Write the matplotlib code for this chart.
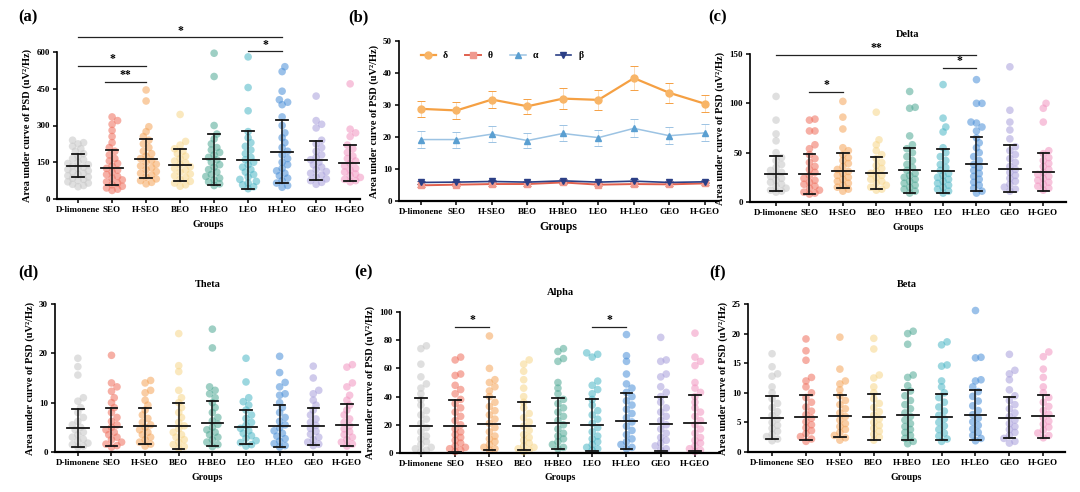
import numpy as np
import matplotlib
matplotlib.use("Agg")
import matplotlib.pyplot as plt
from matplotlib.lines import Line2D

plt.rcParams['font.family'] = ['Liberation Serif', 'DejaVu Serif']
plt.rcParams['font.weight'] = 'bold'
plt.rcParams['axes.labelweight'] = 'bold'
plt.rcParams['axes.titleweight'] = 'bold'

# ---------------- data ----------------
groups = ["D-limonene", "SEO", "H-SEO", "BEO", "H-BEO", "LEO", "H-LEO", "GEO", "H-GEO"]
group_colors = ["#c6c6c6", "#ef6e5c", "#f5a55a", "#f7d68a", "#4ea894",
                "#4cb6c6", "#4a8fd8", "#a89fdb", "#f294c0"]

# (a) total PSD
total_mean = [135, 128, 165, 138, 162, 160, 193, 158, 147]
total_sd = [47, 72, 78, 66, 103, 118, 129, 80, 75]
total_pts = [
    [240, 230, 225, 215, 205, 195, 185, 175, 165, 160, 150, 145, 140, 135, 130, 125, 120, 115, 110, 105, 100, 95, 90, 85, 80, 75, 70, 65, 60, 55, 50],
    [335, 320, 305, 280, 255, 230, 210, 195, 180, 165, 155, 145, 135, 125, 118, 110, 100, 92, 85, 78, 70, 65, 58, 52, 45, 40, 35],
    [445, 400, 295, 275, 255, 240, 225, 210, 195, 185, 175, 165, 158, 150, 142, 135, 128, 120, 112, 105, 98, 90, 82, 75, 68, 62],
    [345, 235, 220, 205, 195, 185, 175, 165, 155, 148, 140, 132, 125, 118, 110, 102, 95, 88, 80, 72, 65, 58, 52],
    [595, 500, 300, 265, 245, 225, 210, 200, 190, 180, 170, 160, 150, 140, 130, 120, 110, 100, 92, 85, 78, 70, 62, 55],
    [580, 455, 360, 275, 250, 230, 215, 200, 185, 170, 160, 150, 140, 130, 120, 110, 100, 90, 80, 72, 65, 58, 50, 42],
    [540, 520, 440, 405, 395, 385, 335, 300, 270, 250, 230, 210, 195, 180, 165, 150, 140, 125, 115, 105, 95, 85, 75, 65, 55, 48],
    [420, 320, 305, 290, 240, 225, 210, 195, 180, 170, 160, 150, 140, 130, 120, 112, 105, 98, 90, 82, 75, 68, 60],
    [470, 285, 270, 255, 220, 205, 190, 175, 165, 155, 145, 135, 125, 118, 110, 102, 95, 88, 80, 75, 70],
]

# (b) band means +- SEM
delta_mean = [28.8, 28.3, 31.7, 29.6, 32.0, 31.6, 38.4, 33.8, 30.4]
delta_err = [2.5, 2.7, 2.6, 2.4, 3.2, 3.1, 3.7, 3.2, 2.7]
theta_mean = [4.9, 5.1, 5.3, 5.3, 5.8, 5.1, 5.3, 5.2, 5.5]
theta_err = [0.5, 0.5, 0.5, 0.6, 0.6, 0.5, 0.5, 0.5, 0.5]
alpha_mean = [19.2, 19.2, 20.9, 18.9, 21.1, 19.8, 22.7, 20.4, 21.3]
alpha_err = [2.7, 2.5, 2.6, 2.3, 2.5, 2.5, 2.8, 2.6, 2.7]
beta_mean = [5.8, 5.9, 6.1, 5.9, 6.3, 5.9, 6.2, 5.8, 6.0]
beta_err = [0.5, 0.5, 0.5, 0.5, 0.6, 0.5, 0.6, 0.5, 0.5]

# (c) delta
delta_sd = [18, 20, 17.5, 16.5, 22.5, 22.5, 27, 23.5, 19]
delta_pts = [
    [107, 83, 69, 62, 50, 45, 42, 38, 35, 32, 30, 28, 26, 24, 22, 20, 18, 16, 14, 12, 11, 10],
    [84, 83, 72, 72, 58, 54, 48, 44, 40, 36, 33, 30, 27, 24, 22, 20, 18, 16, 14, 12, 10, 9, 8],
    [102, 86, 74, 55, 52, 48, 45, 42, 39, 36, 33, 31, 29, 27, 25, 23, 21, 19, 17, 15, 13, 11],
    [91, 63, 58, 52, 48, 44, 40, 37, 34, 31, 29, 27, 25, 23, 21, 19, 17, 15, 13, 12],
    [112, 96, 95, 67, 58, 54, 50, 46, 42, 38, 35, 32, 29, 27, 25, 23, 21, 19, 17, 15, 13, 11, 9],
    [119, 85, 76, 71, 55, 50, 46, 42, 38, 35, 32, 29, 27, 25, 23, 21, 19, 17, 15, 13, 11, 9],
    [124, 100, 100, 81, 80, 76, 72, 65, 60, 55, 50, 46, 42, 38, 35, 32, 29, 26, 23, 20, 17, 14, 11, 9],
    [137, 93, 81, 73, 64, 56, 52, 48, 44, 40, 36, 33, 30, 27, 24, 21, 18, 15, 13, 11],
    [100, 95, 81, 52, 49, 45, 42, 39, 36, 33, 30, 28, 26, 24, 22, 20, 18, 16, 14, 12],
]

# (d) theta
theta_sd = [3.9, 3.8, 3.6, 4.6, 4.6, 3.5, 4.2, 3.7, 4.2]
theta_pts = [
    [19, 17.3, 15.6, 11, 10.3, 9, 8, 7, 6.2, 5.5, 5, 4.5, 4, 3.5, 3, 2.6, 2.2, 1.8, 1.5, 1.2, 1.0],
    [19.6, 14, 13.2, 12.3, 11, 10, 9, 8, 7, 6.2, 5.5, 5, 4.5, 4, 3.5, 3, 2.5, 2, 1.6, 1.3, 1.0],
    [14.5, 14, 12.5, 12, 10.5, 9.5, 8.5, 7.5, 6.8, 6, 5.5, 5, 4.5, 4, 3.5, 3, 2.5, 2, 1.6, 1.2],
    [24, 17.5, 16.3, 12.5, 11, 10, 9, 8, 7, 6, 5.3, 4.7, 4, 3.5, 3, 2.5, 2, 1.5, 1.1, 0.7],
    [24.9, 21.1, 13.2, 12.5, 11.8, 11, 10, 9, 8, 7, 6.3, 5.6, 5, 4.5, 4, 3.5, 3, 2.5, 2, 1.5, 1.1],
    [19, 14.2, 11, 10.2, 9.5, 8.5, 7.5, 6.8, 6, 5.4, 4.8, 4.3, 3.8, 3.3, 2.8, 2.3, 1.9, 1.5, 1.2],
    [19.4, 16.1, 14.1, 13.2, 11.8, 11.5, 10, 9, 8, 7, 6.2, 5.5, 4.9, 4.3, 3.8, 3.2, 2.7, 2.2, 1.7, 1.3, 1.0],
    [17.4, 15, 12.5, 11.8, 10.5, 9.5, 8.5, 7.5, 6.7, 6, 5.4, 4.8, 4.2, 3.6, 3, 2.5, 2, 1.6, 1.3],
    [17.7, 17.2, 14, 13.2, 11.5, 10.5, 9.5, 8.5, 7.5, 6.7, 6, 5.3, 4.7, 4.1, 3.5, 3, 2.5, 2, 1.6, 1.2],
]

# (e) alpha
alpha_sd = [19.6, 18.3, 19, 17, 18.2, 18.4, 20, 19.1, 19.7]
alpha_pts = [
    [76, 74, 63, 54, 49, 46, 42, 38, 34, 30, 27, 24, 21, 18, 15, 12, 10, 8, 6, 4, 3, 2, 1],
    [68, 66, 56, 55, 48, 45, 42, 38, 35, 32, 29, 26, 23, 20, 17, 15, 13, 11, 9, 7, 5, 4, 3, 2, 1],
    [83, 60, 52, 50, 47, 44, 40, 36, 33, 30, 27, 24, 21, 18, 15, 12, 10, 8, 6, 4, 3, 2],
    [66, 63, 58, 52, 46, 40, 36, 32, 28, 25, 22, 19, 16, 13, 11, 9, 7, 5, 4, 3, 2, 1],
    [74, 72, 67, 65, 50, 46, 42, 38, 35, 32, 29, 26, 23, 20, 17, 14, 12, 10, 8, 6, 4, 3],
    [71, 70, 68, 51, 48, 45, 42, 38, 34, 30, 27, 24, 21, 18, 15, 12, 10, 8, 6, 4, 3, 2],
    [84, 69, 65, 56, 49, 46, 43, 40, 37, 34, 31, 28, 25, 22, 19, 16, 13, 10, 8, 6, 4, 3],
    [82, 66, 65, 56, 54, 47, 43, 40, 36, 32, 29, 26, 23, 20, 17, 14, 11, 9, 7, 5, 3, 2],
    [85, 68, 65, 62, 50, 46, 43, 40, 36, 32, 29, 26, 23, 20, 17, 14, 11, 9, 7, 5, 3, 2, 1],
]

# (f) beta
beta_sd = [3.6, 3.8, 3.6, 3.9, 4.2, 3.9, 4.2, 3.5, 3.6]
beta_pts = [
    [16.6, 14.4, 13.2, 12.8, 11, 10, 9, 8.2, 7.5, 6.8, 6.2, 5.6, 5, 4.5, 4, 3.5, 3, 2.6, 2.2, 1.9],
    [19.1, 17.1, 15.5, 12.6, 12, 11, 10, 9.2, 8.4, 7.6, 6.9, 6.3, 5.7, 5.1, 4.6, 4.1, 3.6, 3.1, 2.6, 2.2, 1.8],
    [19.4, 14, 12, 11.5, 10.5, 9.5, 8.7, 8, 7.3, 6.6, 6, 5.4, 4.8, 4.3, 3.8, 3.3, 2.8, 2.4, 2.0],
    [19.2, 17.4, 13, 12.5, 11, 10, 9, 8.2, 7.5, 6.8, 6.2, 5.6, 5, 4.5, 4, 3.5, 3, 2.5, 2.0],
    [20.4, 20, 18.2, 13, 12.6, 11.2, 10.3, 9.5, 8.7, 8, 7.3, 6.6, 6, 5.4, 4.8, 4.3, 3.8, 3.3, 2.8, 2.3, 1.8, 1.4],
    [18.6, 18.1, 14.7, 14.5, 12, 11, 10, 9.2, 8.4, 7.6, 6.9, 6.2, 5.6, 5, 4.4, 3.8, 3.2, 2.7, 2.2, 1.8],
    [23.9, 16, 15.9, 12.2, 12, 11, 10.2, 9.4, 8.6, 7.8, 7, 6.3, 5.7, 5.1, 4.5, 3.9, 3.3, 2.8, 2.3, 1.9],
    [16.5, 13.8, 13.2, 12.2, 10.5, 9.5, 8.7, 8, 7.3, 6.6, 6, 5.4, 4.8, 4.3, 3.8, 3.3, 2.8, 2.3, 1.8, 1.5],
    [16.9, 16.1, 14, 12.6, 11, 10, 9.2, 8.4, 7.7, 7, 6.4, 5.8, 5.2, 4.7, 4.2, 3.7, 3.2, 2.8, 2.4],
]

ylab = "Area under curve of PSD (uV²/Hz)"

# ---------------- figure ----------------
W, H = 1080, 492
fig = plt.figure(figsize=(W / 100, H / 100), dpi=100)


def add_axes(left, right, top, bottom):
    return fig.add_axes([left / W, 1 - bottom / H, (right - left) / W, (bottom - top) / H])


def style(ax, ymax, step, xlim, title=None, xlabel_size=7):
    ax.set_xlim(*xlim)
    ax.set_ylim(0, ymax)
    ax.set_yticks(np.arange(0, ymax + step / 2, step))
    ax.set_xticks(range(len(groups)))
    ax.set_xticklabels(groups)
    for s in ["top", "right"]:
        ax.spines[s].set_visible(False)
    ax.spines["left"].set_linewidth(1.2)
    ax.spines["bottom"].set_linewidth(1.6)
    ax.tick_params(labelsize=6.5, width=1.1, length=3, pad=2)
    ax.set_ylabel(ylab, fontsize=7.5, labelpad=3)
    ax.set_xlabel("Groups", fontsize=xlabel_size, labelpad=4)
    if title:
        ax.set_title(title, fontsize=7.5, pad=12)


def swarm_offsets(ax, vals, i, diam=5.5):
    # simple beeswarm in pixel space so dots don't stack on each other
    order = np.argsort(vals)
    placed = []
    offs = np.zeros(len(vals))
    x0, _ = ax.transData.transform((i, 0))
    x1, _ = ax.transData.transform((i + 1, 0))
    pxcat = x1 - x0
    step = diam * 0.5
    for k in order:
        _, y = ax.transData.transform((i, vals[k]))
        cands = [0.0]
        for n in range(1, 8):
            cands += [n * step, -n * step]
        best = cands[-1]
        for c in cands:
            if all((c - px) ** 2 + (y - py) ** 2 >= diam ** 2 for px, py in placed):
                best = c
                break
        placed.append((best, y))
        offs[k] = max(-0.3, min(0.3, best / pxcat))
    return offs


def dot_panel(ax, pts, means, sds):
    for i, vals in enumerate(pts):
        vals = np.array(vals, dtype=float)
        offs = swarm_offsets(ax, vals, i)
        ax.scatter(i + offs, vals, s=30, color=group_colors[i], alpha=0.55,
                   edgecolors="none", zorder=2, clip_on=False)
        m, sd = means[i], sds[i]
        ax.plot([i - 0.32, i + 0.32], [m, m], color="#151515", lw=1.3, zorder=3)
        ax.plot([i, i], [m - sd, m + sd], color="#151515", lw=1.1, zorder=3)
        for yy in (m - sd, m + sd):
            ax.plot([i - 0.17, i + 0.17], [yy, yy], color="#151515", lw=1.3, zorder=3)


def sig(ax, i0, i1, y, label, dy):
    ax.plot([i0, i1], [y, y], color="#222222", lw=0.9, clip_on=False)
    ax.text((i0 + i1) / 2, y + dy, label, ha="center", va="bottom",
            fontsize=8.5, clip_on=False)


# (a)
ax_a = add_axes(57, 360, 52, 199)
style(ax_a, 600, 150, (-0.62, 8.29))
dot_panel(ax_a, total_pts, total_mean, total_sd)
sig(ax_a, 0, 6, 661, "*", 2)
sig(ax_a, 5, 6, 604, "*", 2)
sig(ax_a, 0, 2, 543, "*", 2)
sig(ax_a, 0.8, 2, 478, "**", 2)

# (b)
ax_b = add_axes(399, 718, 41, 201)
style(ax_b, 50, 10, (-0.62, 8.37), xlabel_size=8.5)
x = np.arange(len(groups))
lines = [
    (delta_mean, delta_err, "δ", "#f5a043", "o", "#f8b567", 1.6),
    (theta_mean, theta_err, "θ", "#e0604e", "s", "#f09a8f", 1.4),
    (alpha_mean, alpha_err, "α", "#9cc3e3", "^", "#5a9fd1", 1.1),
    (beta_mean, beta_err, "β", "#2b3f86", "v", "#2b3f86", 1.2),
]
handles = []
for mean, err, lab, lc, mk, mc, lw in lines:
    ax_b.errorbar(x, mean, yerr=err, color=lc, lw=lw, marker=mk, ms=5,
                  mfc=mc, mec=mc, ecolor=lc, elinewidth=0.7, capsize=3,
                  capthick=0.7, zorder=3)
    handles.append(Line2D([], [], color=lc, lw=lw, marker=mk, ms=5, mfc=mc, mec=mc, label=lab))
# lighten error bars
for coll in ax_b.collections:
    coll.set_alpha(0.35)
ax_b.legend(handles=handles, loc="upper left", bbox_to_anchor=(0.04, 0.99), ncol=4,
            frameon=False, fontsize=7, handlelength=1.6, columnspacing=1.8, handletextpad=0.7)

# (c)
ax_c = add_axes(750, 1066, 54, 202)
style(ax_c, 150, 50, (-0.78, 8.68), title="Delta")
dot_panel(ax_c, delta_pts, delta_mean, delta_sd)
sig(ax_c, 0, 6, 149, "**", 0.5)
sig(ax_c, 5, 6, 136, "*", 0.5)
sig(ax_c, 1, 2, 111.5, "*", 0.5)

# (d)
ax_d = add_axes(55, 360, 304, 452)
style(ax_d, 30, 10, (-0.68, 8.39), title="Theta")
dot_panel(ax_d, theta_pts, theta_mean, theta_sd)

# (e)
ax_e = add_axes(400, 720, 312, 453)
style(ax_e, 100, 20, (-0.61, 8.73), title="Alpha")
dot_panel(ax_e, alpha_pts, alpha_mean, alpha_sd)
sig(ax_e, 1, 2, 89.5, "*", 0.5)
sig(ax_e, 5, 6, 89.5, "*", 0.5)

# (f)
ax_f = add_axes(748, 1065, 304, 452)
style(ax_f, 25, 5, (-0.71, 8.64), title="Beta")
dot_panel(ax_f, beta_pts, beta_mean, beta_sd)

# panel letters
for lab, px, py in [("(a)", 28, 17), ("(b)", 358, 17), ("(c)", 718, 17),
                    ("(d)", 28, 272), ("(e)", 363, 272), ("(f)", 718, 272)]:
    fig.text(px / W, 1 - py / H, lab, fontsize=12, ha="center", va="center", weight="bold")

fig.savefig("out.png", dpi=100, facecolor="white")
